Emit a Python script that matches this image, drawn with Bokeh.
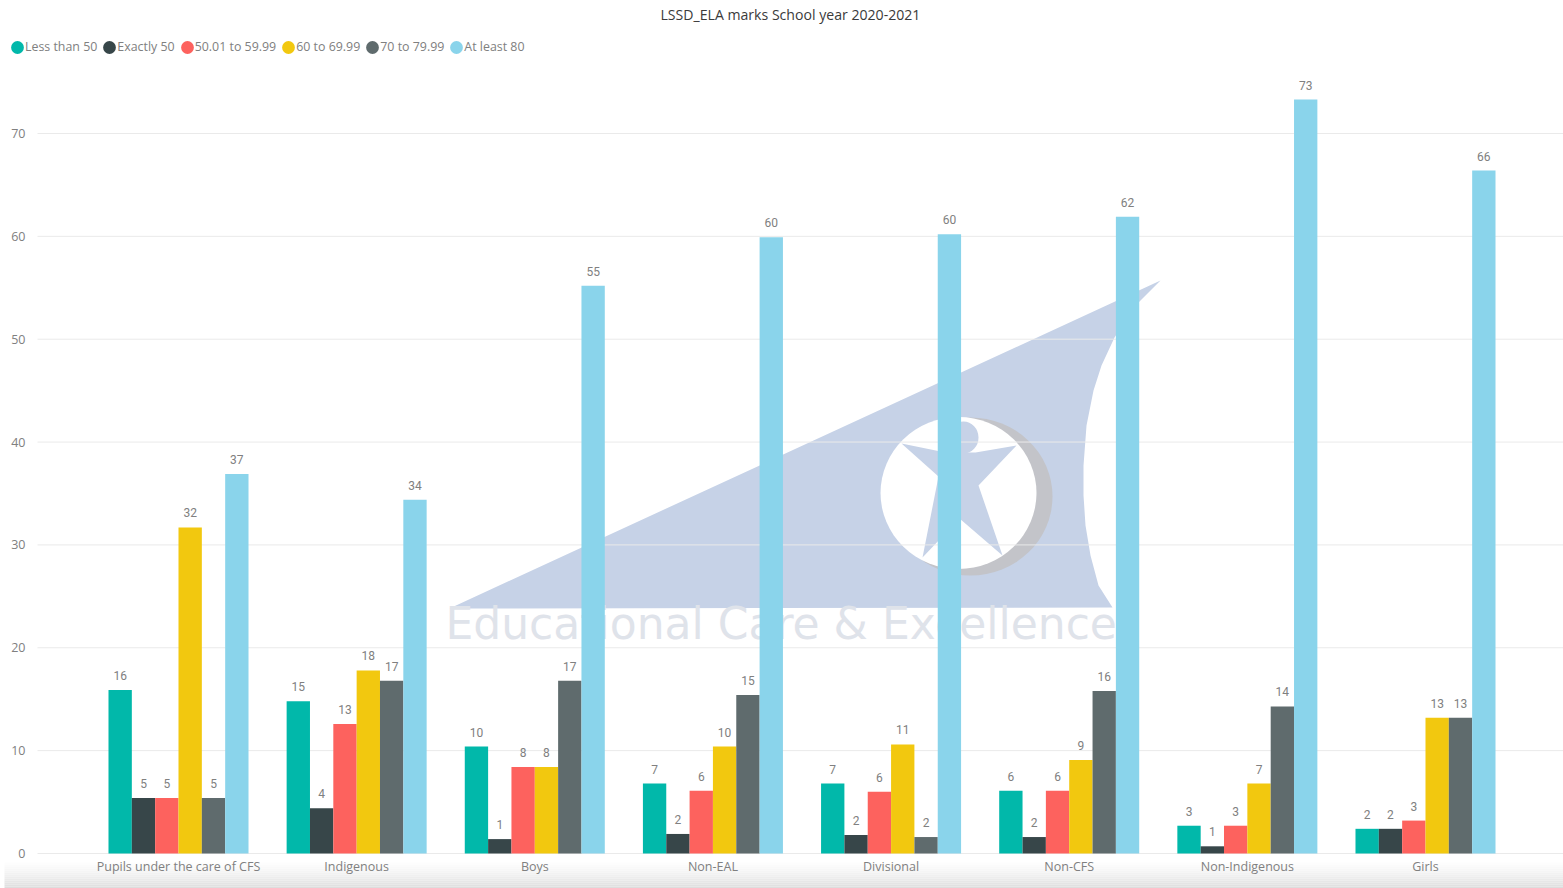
from bokeh.plotting import figure
from bokeh.embed import file_html
from bokeh.resources import INLINE
from bokeh.core.properties import value
from bokeh.models import (Range1d, FixedTicker, Legend, LegendItem, LinearAxis,
                          ColumnDataSource, Title)

categories = ["Pupils under the care of CFS", "Indigenous", "Boys", "Non-EAL",
              "Divisional", "Non-CFS", "Non-Indigenous", "Girls"]
series_names = ["Less than 50", "Exactly 50", "50.01 to 59.99", "60 to 69.99",
                "70 to 79.99", "At least 80"]
less_than_50 = [15.9, 14.8, 10.4, 6.8, 6.8, 6.1, 2.7, 2.4]
exactly_50 = [5.4, 4.4, 1.4, 1.9, 1.8, 1.6, 0.7, 2.4]
from_50_to_59 = [5.4, 12.6, 8.4, 6.1, 6.0, 6.1, 2.7, 3.2]
from_60_to_69 = [31.7, 17.8, 8.4, 10.4, 10.6, 9.1, 6.8, 13.2]
from_70_to_79 = [5.4, 16.8, 16.8, 15.4, 1.6, 15.8, 14.3, 13.2]
at_least_80 = [36.9, 34.4, 55.2, 59.9, 60.2, 61.9, 73.3, 66.4]
all_series = [less_than_50, exactly_50, from_50_to_59, from_60_to_69, from_70_to_79, at_least_80]
colors = ["#01B8AA", "#374649", "#FD625E", "#F2C80F", "#5F6B6D", "#8AD4EB"]
y_ticks = [0, 10, 20, 30, 40, 50, 60, 70]

W, H = 1563, 888
F_TOP = 25
STEP = 178.14
PX_PER_UNIT = 10.286
X_START = -178.0 / STEP
X_END = 7 + (W - 1425.0) / STEP
Y_START = -(H - 853) / PX_PER_UNIT
Y_END = (853 - F_TOP) / PX_PER_UNIT
BAR = 0.131

p = figure(width=W, height=H, output_backend="svg", toolbar_location=None,
           x_range=Range1d(X_START, X_END), y_range=Range1d(Y_START, Y_END),
           x_axis_type=None, y_axis_type=None,
           min_border_left=0, min_border_right=0, min_border_top=F_TOP,
           min_border_bottom=0, outline_line_color=None)

p.title = Title(text="LSSD_ELA marks School year 2020-2021", align="left", offset=660,
                text_font="Open Sans", text_font_size="14.1px", text_font_style="normal",
                text_color="#3a3a3a", standoff=4)

# reference pixels -> data units, used for the decoration only
def dx(px):
    return X_START + px / STEP
def dy(py):
    return (853 - py) / PX_PER_UNIT

sail = [(449, 608), (1160, 280), (1135, 305), (1114, 337), (1101, 365), (1093, 390),
        (1086, 425), (1083, 465), (1083, 495), (1085, 525), (1090, 555), (1098, 585), (1112, 607)]
star = [(901, 443), (945, 452), (975, 452), (1016, 445), (978, 485), (1002, 555),
        (959, 518), (922, 557), (938, 476)]
p.patch([dx(a) for a, b in sail], [dy(b) for a, b in sail], fill_color="#C6D2E7",
        line_color=None, level="image")
p.ellipse([dx(970)], [dy(496)], width=164, height=158, width_units="screen", height_units="screen",
          fill_color="#C3C4C9", line_color=None, level="image")
p.ellipse([dx(958)], [dy(492.5)], width=156, height=152, width_units="screen", height_units="screen",
          fill_color="#FFFFFF", line_color=None, level="image")
p.patch([dx(a) for a, b in star], [dy(b) for a, b in star], fill_color="#C6D2E7",
        line_color=None, level="image")
p.ellipse([dx(963)], [dy(437)], width=30, height=32, width_units="screen", height_units="screen",
          fill_color="#C6D2E7", line_color=None, level="image")
p.text([dx(445)], [dy(623)], text=["Educational Care & Excellence"],
       text_font=value("DejaVu Sans"), text_font_size="44px", text_color="#DFE3EA",
       text_align="left", text_baseline="middle", level="image")

# grid rules begin right of the y labels
p.segment(x0=[dx(37)] * len(y_ticks), x1=[X_END] * len(y_ticks), y0=y_ticks, y1=y_ticks,
          line_color="#EAEAEA", line_width=1, level="underlay")

# soft grey band along the bottom edge
band = ["#FDFDFD", "#FBFBFB", "#F9F9F9", "#F7F7F7", "#F5F5F5", "#F2F2F2", "#F0F0F0",
        "#EDEDED", "#EAEAEA", "#E7E7E7", "#E4E4E4", "#E1E1E1", "#DDDDDD"]
p.quad(left=[dx(4)] * len(band), right=[X_END] * len(band),
       top=[dy(862 + 2 * k) for k in range(len(band))],
       bottom=[dy(864 + 2 * k) for k in range(len(band))],
       fill_color=band, line_color=None, level="underlay")

legend_items = []
for j, (name, vals, col) in enumerate(zip(series_names, all_series, colors)):
    xs = [i + (j - 2.5) * BAR for i in range(len(categories))]
    src = ColumnDataSource(dict(x=xs, top=vals, label=[str(round(v)) for v in vals]))
    p.vbar(x="x", top="top", width=BAR, source=src, fill_color=col, line_color=None)
    p.text(x="x", y="top", text="label", source=src, text_font=value("Roboto"),
           text_font_size="12px", text_color="#808080", text_align="center",
           text_baseline="bottom", y_offset=-10)
    dot = p.ellipse(x=[-100], y=[-100], width=13, height=13, width_units="screen",
                    height_units="screen", fill_color=col, line_color=None)
    legend_items.append(LegendItem(label=name, renderers=[dot]))

legend = Legend(items=legend_items, orientation="horizontal", location=(9, H - 55),
                glyph_width=16, glyph_height=16, label_standoff=0, spacing=4,
                padding=0, margin=0, background_fill_alpha=0, border_line_color=None,
                label_text_font="Open Sans", label_text_font_size="12.4px",
                label_text_color="#808080")
p.add_layout(legend, "center")

xaxis = LinearAxis(fixed_location=0, ticker=FixedTicker(ticks=list(range(len(categories)))),
                   major_label_overrides={i: c for i, c in enumerate(categories)},
                   axis_line_color=None, major_tick_line_color=None, minor_tick_line_color=None,
                   major_label_standoff=-2, major_label_text_font="Open Sans",
                   major_label_text_font_size="12.5px", major_label_text_color="#808080")
p.add_layout(xaxis, "below")

yaxis = LinearAxis(fixed_location=dx(37), ticker=FixedTicker(ticks=y_ticks),
                   axis_line_color=None, major_tick_line_color=None, minor_tick_line_color=None,
                   major_label_standoff=6, major_label_text_font="Open Sans",
                   major_label_text_font_size="12.5px", major_label_text_color="#808080")
p.add_layout(yaxis, "left")

p.xgrid.visible = False
p.ygrid.visible = False

open("out.html", "w").write(file_html(p, INLINE))
